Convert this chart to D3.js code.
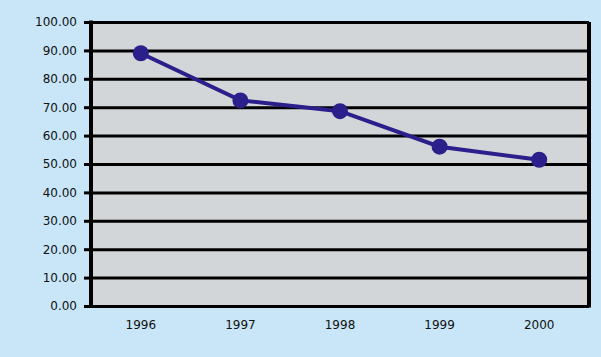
<!DOCTYPE html>
<html>
<head>
<meta charset="utf-8">
<script src="https://cdn.jsdelivr.net/npm/d3@7"></script>
<style>
  html, body { margin: 0; padding: 0; background: #c8e6f8; }
  svg text { font-family: "DejaVu Sans", Verdana, sans-serif; font-size: 12px; fill: #111; }
</style>
</head>
<body>
<div id="chart"></div>
<script>
// values
var years = ["1996", "1997", "1998", "1999", "2000"];
var values = [89.0, 72.4, 68.6, 56.1, 51.5];
var yTicks = [0, 10, 20, 30, 40, 50, 60, 70, 80, 90, 100];

var width = 601, height = 357;
var margins = { top: 22, right: 12, bottom: 51, left: 91 };
var chartWidth = width - margins.left - margins.right;
var chartHeight = height - margins.top - margins.bottom;

var svg = d3.select("#chart").append("svg")
  .attr("width", width)
  .attr("height", height);

svg.append("rect")
  .attr("width", width).attr("height", height)
  .attr("fill", "#c8e6f8");

var chartElement = svg.append("g")
  .attr("transform", `translate(${margins.left},${margins.top})`);

var xScale = d3.scaleBand().domain(years).range([0, chartWidth]);
var yScale = d3.scaleLinear().domain([0, 100]).range([chartHeight, 0]);

// plot background
chartElement.append("rect")
  .attr("width", chartWidth).attr("height", chartHeight)
  .attr("fill", "#d3d6d9");

// grid lines
chartElement.append("g")
  .attr("class", "y grid")
  .call(d3.axisLeft(yScale).tickValues(yTicks).tickSize(-chartWidth).tickFormat(""))
  .call(g => g.select(".domain").remove())
  .selectAll("line")
  .attr("stroke", "#000")
  .attr("stroke-width", 3);

// right border
chartElement.append("line")
  .attr("x1", chartWidth).attr("x2", chartWidth)
  .attr("y1", 0).attr("y2", chartHeight + 1.5)
  .attr("stroke", "#000").attr("stroke-width", 4);

// y axis
var yAxis = chartElement.append("g")
  .attr("class", "y axis")
  .call(d3.axisLeft(yScale).tickValues(yTicks).tickSize(7).tickPadding(7)
    .tickFormat(d => d.toFixed(2)));
yAxis.select(".domain").remove();
yAxis.selectAll("line").attr("stroke", "#000").attr("stroke-width", 3);
yAxis.append("line")
  .attr("x1", 0).attr("x2", 0)
  .attr("y1", -1.5).attr("y2", chartHeight + 1.5)
  .attr("stroke", "#000").attr("stroke-width", 4);

// x axis labels
var xAxis = chartElement.append("g")
  .attr("class", "x axis")
  .attr("transform", `translate(0,${chartHeight})`)
  .call(d3.axisBottom(xScale).tickSize(0).tickPadding(14));
xAxis.select(".domain").remove();

// line + dots
var pts = years.map((y, i) => ({ year: y, value: values[i] }));
var line = d3.line()
  .x(d => xScale(d.year) + xScale.bandwidth() / 2)
  .y(d => yScale(d.value));

chartElement.append("path")
  .datum(pts)
  .attr("d", line)
  .attr("fill", "none")
  .attr("stroke", "#2b1f8c")
  .attr("stroke-width", 4);

chartElement.append("g")
  .selectAll("circle")
  .data(pts)
  .enter()
  .append("circle")
  .attr("cx", d => xScale(d.year) + xScale.bandwidth() / 2)
  .attr("cy", d => yScale(d.value))
  .attr("r", 8)
  .attr("fill", "#2b1f8c");
</script>
</body>
</html>
